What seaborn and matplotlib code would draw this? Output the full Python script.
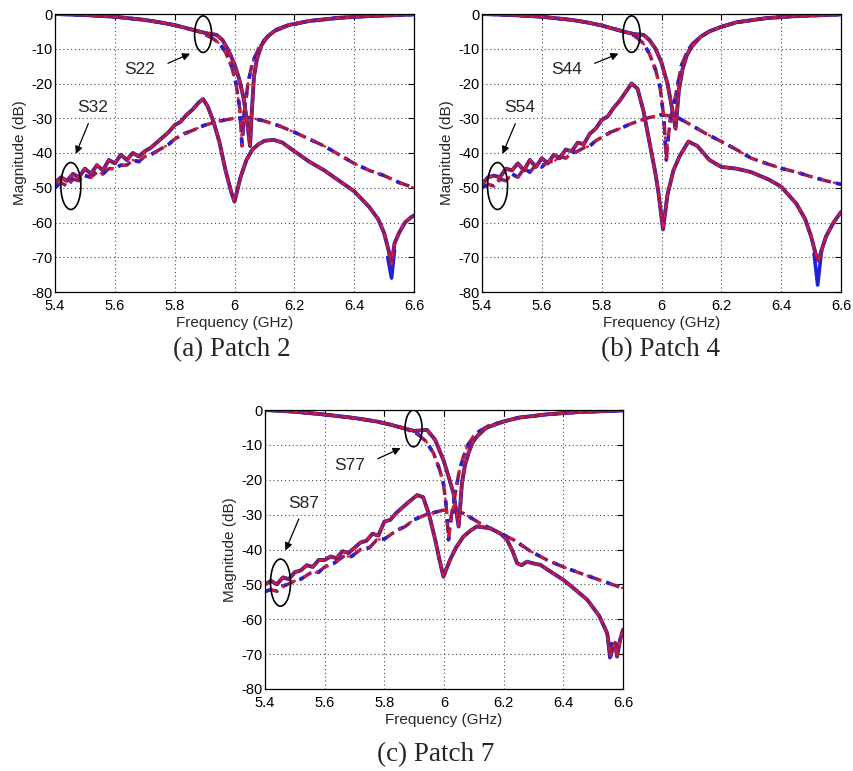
import numpy as np
import pandas as pd
import matplotlib
matplotlib.use("Agg")
import matplotlib.pyplot as plt
from matplotlib.patches import Ellipse
import seaborn as sns

# ---------------- data ----------------
x_ticks = [5.4, 5.6, 5.8, 6.0, 6.2, 6.4, 6.6]
x_tick_labels = ["5.4", "5.6", "5.8", "6", "6.2", "6.4", "6.6"]
y_ticks = [0, -10, -20, -30, -40, -50, -60, -70, -80]
y_tick_labels = ["0", "-10", "-20", "-30", "-40", "-50", "-60", "-70", "-80"]

panel_captions = ["(a) Patch 2", "(b) Patch 4", "(c) Patch 7"]
refl_labels = ["S22", "S44", "S77"]
coup_labels = ["S32", "S54", "S87"]

# Panel (a)
a_r_solid_f = [5.40, 5.50, 5.60, 5.70, 5.75, 5.80, 5.85, 5.88, 5.91, 5.94, 5.96, 5.98, 6.00, 6.015, 6.03, 6.042, 6.052, 6.058, 6.065, 6.075, 6.09, 6.11, 6.14, 6.18, 6.25, 6.35, 6.45, 6.55, 6.60]
a_r_solid_m = [0, -0.3, -0.8, -1.7, -2.4, -3.2, -4.3, -5.0, -5.6, -6.0, -7.5, -10.5, -14.5, -18.5, -24, -31, -38, -28, -18, -13, -9, -6.5, -4.5, -3.2, -2, -1.1, -0.6, -0.3, -0.1]
a_r_dash_f = [5.40, 5.50, 5.60, 5.70, 5.75, 5.80, 5.85, 5.88, 5.91, 5.93, 5.95, 5.97, 5.99, 6.005, 6.018, 6.025, 6.033, 6.045, 6.06, 6.08, 6.10, 6.13, 6.18, 6.25, 6.35, 6.45, 6.55, 6.60]
a_r_dash_m = [0, -0.3, -0.8, -1.7, -2.4, -3.2, -4.3, -5.0, -6.2, -7.2, -8.5, -11, -15, -20, -27.5, -38, -28, -20, -14, -10, -7.5, -5, -3.3, -2, -1.1, -0.6, -0.3, -0.1]
a_c_solid_f = [5.40, 5.42, 5.44, 5.46, 5.48, 5.50, 5.52, 5.54, 5.56, 5.58, 5.60, 5.62, 5.64, 5.66, 5.68, 5.70, 5.72, 5.74, 5.76, 5.78, 5.80, 5.82, 5.84, 5.86, 5.88, 5.895, 5.91, 5.93, 5.95, 5.97, 5.99, 6.00, 6.02, 6.04, 6.06, 6.08, 6.10, 6.13, 6.16, 6.20, 6.25, 6.30, 6.35, 6.40, 6.45, 6.48, 6.50, 6.515, 6.525, 6.535, 6.55, 6.57, 6.59, 6.60]
a_c_solid_m = [-48.5, -47, -48, -46, -47, -44.5, -46, -43.5, -45, -42, -43, -40.5, -42, -40, -41, -39.5, -38.5, -37, -35.5, -34, -32, -31, -29, -27.5, -25.5, -24.5, -26.5, -31, -37, -45, -51.5, -54, -47, -42, -39, -37.5, -36.5, -36.2, -37, -39.5, -42.5, -45, -48, -51, -55.5, -59, -63, -68, -72, -66, -63, -60, -58.5, -58]
a_c_dash_f = [5.40, 5.42, 5.44, 5.46, 5.48, 5.50, 5.52, 5.54, 5.56, 5.58, 5.60, 5.62, 5.64, 5.66, 5.68, 5.70, 5.72, 5.74, 5.76, 5.78, 5.80, 5.83, 5.86, 5.90, 5.95, 6.00, 6.05, 6.10, 6.15, 6.20, 6.25, 6.30, 6.35, 6.40, 6.45, 6.50, 6.55, 6.60]
a_c_dash_m = [-50, -48.5, -49.5, -47.5, -48, -46.5, -47, -45.5, -46, -44.5, -44.5, -43.5, -43.5, -42, -42.5, -41, -40.5, -39.5, -38.5, -37.5, -36, -34.5, -33.5, -32, -30.8, -30, -29.8, -30.8, -32.2, -34, -36, -38, -40.5, -43, -45, -46.5, -48.5, -50]
a_notch_f = [6.512, 6.525, 6.535]
a_notch_m = [-70, -76, -68]

# Panel (b)
b_r_solid_f = [5.40, 5.50, 5.60, 5.70, 5.75, 5.80, 5.85, 5.88, 5.91, 5.94, 5.96, 5.98, 6.00, 6.02, 6.036, 6.047, 6.058, 6.07, 6.084, 6.10, 6.13, 6.16, 6.20, 6.25, 6.35, 6.45, 6.55, 6.60]
b_r_solid_m = [0, -0.3, -0.8, -1.7, -2.4, -3.3, -4.5, -5.2, -5.8, -6.0, -7.5, -10, -14, -20, -27.5, -33, -22, -16, -12, -9.5, -6.6, -5, -3.7, -2.4, -1.2, -0.6, -0.3, -0.1]
b_r_dash_f = [5.40, 5.50, 5.60, 5.70, 5.75, 5.80, 5.85, 5.88, 5.91, 5.94, 5.96, 5.98, 5.995, 6.008, 6.016, 6.022, 6.03, 6.045, 6.066, 6.085, 6.104, 6.13, 6.16, 6.20, 6.25, 6.35, 6.45, 6.55, 6.60]
b_r_dash_m = [0, -0.3, -0.8, -1.7, -2.4, -3.3, -4.5, -5.2, -6.2, -8.5, -11.5, -16, -21, -30, -42, -36, -30, -24.5, -15, -11, -8.5, -6.6, -5, -3.7, -2.4, -1.2, -0.6, -0.3, -0.1]
b_c_solid_f = [5.40, 5.42, 5.44, 5.46, 5.48, 5.50, 5.52, 5.54, 5.56, 5.58, 5.60, 5.62, 5.64, 5.66, 5.68, 5.70, 5.72, 5.74, 5.76, 5.78, 5.80, 5.82, 5.84, 5.86, 5.88, 5.90, 5.92, 5.94, 5.96, 5.98, 5.99, 6.005, 6.02, 6.04, 6.06, 6.09, 6.12, 6.16, 6.20, 6.25, 6.30, 6.36, 6.40, 6.45, 6.48, 6.50, 6.515, 6.525, 6.535, 6.55, 6.575, 6.60]
b_c_solid_m = [-49, -47, -46.5, -47, -44.5, -45, -43, -45, -42, -44, -41.5, -43, -40.5, -41.5, -39, -39.5, -37, -37.5, -34.5, -33, -30.5, -29.5, -27, -25, -22.5, -20, -21.5, -28, -37, -46, -51.5, -62, -52, -45, -41, -36.7, -38, -42, -44, -44.5, -45.5, -47.7, -49.7, -54.5, -59, -64, -69, -71, -68, -64, -60, -57]
b_c_dash_f = [5.40, 5.42, 5.44, 5.46, 5.48, 5.50, 5.52, 5.54, 5.56, 5.58, 5.60, 5.62, 5.64, 5.66, 5.68, 5.70, 5.72, 5.74, 5.76, 5.78, 5.80, 5.83, 5.86, 5.90, 5.95, 6.00, 6.05, 6.10, 6.15, 6.20, 6.25, 6.30, 6.35, 6.40, 6.45, 6.50, 6.55, 6.60]
b_c_dash_m = [-50, -49, -49.5, -47.5, -48, -46, -47, -44.5, -45.5, -43.5, -44, -42.5, -42.5, -41, -41.5, -40, -39.5, -38.5, -38, -36.5, -35.5, -34, -33, -31.5, -30, -29, -29.6, -32, -34.5, -36.7, -39, -41.5, -43, -44.4, -45.5, -46.8, -48, -49]
b_notch_f = [6.51, 6.522, 6.535]
b_notch_m = [-69, -78, -68]

# Panel (c)
c_r_solid_f = [5.40, 5.50, 5.60, 5.70, 5.775, 5.82, 5.864, 5.90, 5.943, 5.97, 5.998, 6.015, 6.032, 6.049, 6.055, 6.06, 6.07, 6.082, 6.095, 6.11, 6.14, 6.17, 6.20, 6.25, 6.35, 6.45, 6.55, 6.60]
c_r_solid_m = [0, -0.5, -1.3, -2.3, -3.3, -4.2, -5.2, -6.0, -5.7, -8.5, -14.3, -19, -24, -33.4, -27, -21, -16, -12.4, -9.5, -7.6, -5.2, -4.2, -3.3, -2.2, -1.2, -0.6, -0.3, -0.1]
c_r_dash_f = [5.40, 5.50, 5.60, 5.70, 5.775, 5.82, 5.864, 5.909, 5.94, 5.965, 5.985, 5.998, 6.008, 6.015, 6.025, 6.038, 6.05, 6.065, 6.08, 6.099, 6.12, 6.15, 6.20, 6.25, 6.35, 6.45, 6.55, 6.60]
c_r_dash_m = [0, -0.5, -1.3, -2.3, -3.3, -4.2, -5.2, -6.7, -9, -12.4, -17, -21, -28, -37.2, -30, -23.9, -18, -13.4, -10, -7.6, -6, -4.5, -3.3, -2.2, -1.2, -0.6, -0.3, -0.1]
c_c_solid_f = [5.40, 5.42, 5.44, 5.46, 5.48, 5.50, 5.52, 5.54, 5.56, 5.58, 5.60, 5.62, 5.64, 5.66, 5.68, 5.70, 5.72, 5.74, 5.76, 5.78, 5.80, 5.82, 5.84, 5.86, 5.88, 5.91, 5.93, 5.95, 5.97, 5.985, 5.998, 6.02, 6.04, 6.065, 6.09, 6.11, 6.155, 6.19, 6.211, 6.23, 6.245, 6.26, 6.278, 6.30, 6.323, 6.36, 6.40, 6.44, 6.48, 6.52, 6.547, 6.558, 6.566, 6.574, 6.58, 6.59, 6.60]
c_c_solid_m = [-50, -49, -50, -48, -48.5, -46.5, -46, -44.5, -45, -43, -43, -42, -42.5, -40.5, -41, -39.5, -38, -37.5, -35.5, -36, -32, -31.5, -29.5, -28, -26.5, -24.4, -25, -30, -37, -43, -47.8, -43, -39.5, -36.3, -34.5, -33.4, -33.9, -35.5, -37.2, -40.5, -43.9, -44.5, -43.5, -44, -44.4, -46.5, -48.7, -51.5, -54.4, -59, -64, -70.7, -68, -66.8, -70.7, -66, -63]
c_c_dash_f = [5.40, 5.42, 5.44, 5.46, 5.473, 5.50, 5.52, 5.551, 5.58, 5.60, 5.63, 5.663, 5.69, 5.72, 5.75, 5.775, 5.80, 5.842, 5.87, 5.898, 5.94, 5.998, 6.065, 6.121, 6.18, 6.233, 6.29, 6.345, 6.40, 6.457, 6.53, 6.60]
c_c_dash_m = [-52, -51.5, -52, -50.5, -50.1, -49, -48.5, -46.8, -46.5, -45, -44, -42, -42, -40, -39.5, -37.2, -37, -34.5, -33.4, -31.5, -30, -28.7, -29.6, -32.5, -35, -37.2, -40.5, -43, -45, -46.8, -49, -51.1]
c_notch_f = [6.55, 6.556, 6.562]
c_notch_m = [-66, -71, -67]

# annotation anchor points (data coords) per panel
refl_text_xy = [(5.684, -16), (5.683, -16), (5.685, -15.8)]
refl_ell_xy = [(5.895, -5.8), (5.90, -5.8), (5.898, -5.3)]
coup_text_xy = [(5.527, -27), (5.527, -27), (5.529, -26.7)]
coup_ell_xy = [(5.453, -49.5), (5.452, -49.5), (5.452, -49.5)]

panels = [
    dict(rs=(a_r_solid_f, a_r_solid_m), rd=(a_r_dash_f, a_r_dash_m),
         cs=(a_c_solid_f, a_c_solid_m), cd=(a_c_dash_f, a_c_dash_m), nt=(a_notch_f, a_notch_m)),
    dict(rs=(b_r_solid_f, b_r_solid_m), rd=(b_r_dash_f, b_r_dash_m),
         cs=(b_c_solid_f, b_c_solid_m), cd=(b_c_dash_f, b_c_dash_m), nt=(b_notch_f, b_notch_m)),
    dict(rs=(c_r_solid_f, c_r_solid_m), rd=(c_r_dash_f, c_r_dash_m),
         cs=(c_c_solid_f, c_c_solid_m), cd=(c_c_dash_f, c_c_dash_m), nt=(c_notch_f, c_notch_m)),
]

# ---------------- style ----------------
sns.set_style("white")
plt.rcParams["font.family"] = ["Liberation Sans", "DejaVu Sans"]
plt.rcParams["axes.unicode_minus"] = False

BLUE = "#2020d8"
RED = "#e8182c"
PURPLE = "#8c1c5c"

fig = plt.figure(figsize=(8.54, 7.71), dpi=100)
W, H = 854, 771
boxes = [(55, 14, 414, 292), (482, 14, 841, 292), (265, 410, 623, 689)]
cap_xy = [(232, 350), (661, 350), (436, 755)]


def draw_solid(ax, f, m):
    df = pd.DataFrame({"f": f, "m": m})
    sns.lineplot(data=df, x="f", y="m", ax=ax, color=BLUE, lw=2.8, sort=False)
    sns.lineplot(data=df, x="f", y="m", ax=ax, color=PURPLE, lw=2.3, sort=False)
    sns.lineplot(data=df, x="f", y="m", ax=ax, color=RED, lw=1.4, sort=False,
                 linestyle=(0, (2, 3)))


def draw_dashed(ax, f, m):
    df = pd.DataFrame({"f": f, "m": m})
    sns.lineplot(data=df, x="f", y="m", ax=ax, color=PURPLE, lw=2.5, sort=False,
                 linestyle=(0, (4, 1.5)))
    sns.lineplot(data=df, x="f", y="m", ax=ax, color=BLUE, lw=2.5, sort=False,
                 linestyle=(0, (1.5, 4)))
    sns.lineplot(data=df, x="f", y="m", ax=ax, color=RED, lw=1.6, sort=False,
                 linestyle=(2.5, (1.5, 4)))


for i, (p, (l, t, r, b)) in enumerate(zip(panels, boxes)):
    ax = fig.add_axes([l / W, 1 - b / H, (r - l) / W, (b - t) / H])
    ax.set_facecolor("white")
    nf, nm = p["nt"]
    sns.lineplot(x=nf, y=nm, ax=ax, color=BLUE, lw=2.6, sort=False)
    draw_dashed(ax, *p["cd"])
    draw_solid(ax, *p["cs"])
    draw_dashed(ax, *p["rd"])
    draw_solid(ax, *p["rs"])

    ax.set_xlim(5.4, 6.6)
    ax.set_ylim(-80, 0)
    ax.set_xticks(x_ticks)
    ax.set_xticklabels(x_tick_labels)
    ax.set_yticks(y_ticks)
    ax.set_yticklabels(y_tick_labels)
    ax.tick_params(direction="in", length=4, width=0.8, top=True, right=True,
                   labelsize=10.5, colors="black")
    ax.tick_params(axis="x", pad=5)
    ax.tick_params(axis="y", pad=2)
    ax.grid(True, linestyle=(0, (1, 2.5)), color="0.3", lw=0.8)
    for s in ax.spines.values():
        s.set_color("black")
        s.set_linewidth(0.9)
    ax.set_xlabel("Frequency (GHz)", fontsize=11, labelpad=2)
    ax.set_ylabel("Magnitude (dB)", fontsize=11, labelpad=3)

    # annotations
    ex, ey = refl_ell_xy[i]
    ax.add_patch(Ellipse((ex, ey), 0.057, 10.5, fill=False, edgecolor="black", lw=1.2, zorder=10))
    tx, ty = refl_text_xy[i]
    ax.text(tx, ty, refl_labels[i], fontsize=12.5, ha="center", va="center", zorder=10)
    ax.annotate("", xy=(ex - 0.035, ey - 5.3), xytext=(tx + 0.085, ty + 1.5),
                arrowprops=dict(arrowstyle="-|>", color="black", lw=0.9, mutation_scale=11),
                zorder=10)
    cx, cy = coup_ell_xy[i]
    ax.add_patch(Ellipse((cx, cy), 0.067, 13.5, fill=False, edgecolor="black", lw=1.2, zorder=10))
    tx, ty = coup_text_xy[i]
    ax.text(tx, ty, coup_labels[i], fontsize=12.5, ha="center", va="center", zorder=10)
    ax.annotate("", xy=(cx + 0.013, cy + 8.5), xytext=(tx - 0.012, ty - 3.8),
                arrowprops=dict(arrowstyle="-|>", color="black", lw=0.9, mutation_scale=11),
                zorder=10)

    cxp, cyp = cap_xy[i]
    fig.text(cxp / W, 1 - cyp / H, panel_captions[i], ha="center", va="center",
             fontsize=19.5, family=["Liberation Serif", "DejaVu Serif"])

fig.savefig("out.png", dpi=100, facecolor="white")
